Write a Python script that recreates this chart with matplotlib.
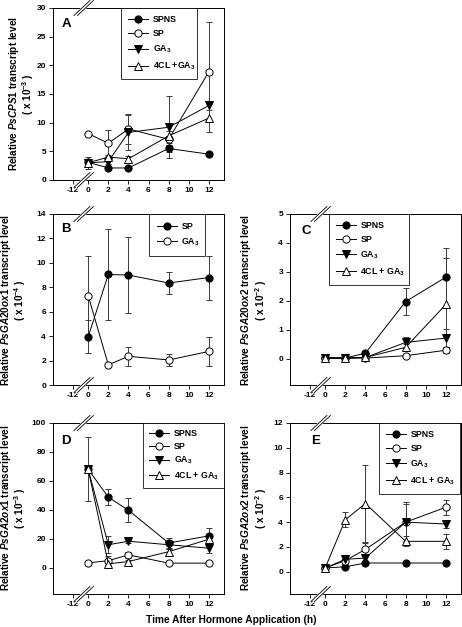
import matplotlib
matplotlib.use("Agg")
import matplotlib.pyplot as plt
import numpy as np

plt.rcParams['font.family'] = ['Liberation Sans', 'DejaVu Sans']
plt.rcParams['font.weight'] = 'bold'
plt.rcParams['mathtext.fontset'] = 'custom'
plt.rcParams['mathtext.rm'] = 'Liberation Sans:bold'
plt.rcParams['mathtext.bf'] = 'Liberation Sans:bold'
plt.rcParams['mathtext.it'] = 'Liberation Sans:italic:bold'
plt.rcParams['mathtext.default'] = 'rm'

# ---------------- data ----------------
times = [0, 2, 4, 8, 12]
xtick_pos = [-1.5, 0, 2, 4, 6, 8, 10, 12]
xtick_labels = ['-12', '0', '2', '4', '6', '8', '10', '12']

# Panel A  PsCPS1 (x10^-3)
A_spns = [3.1, 2.1, 2.1, 5.5, 4.5]
A_spns_err = [0.3, 0.3, 0.3, 0.6, 0.3]
A_sp = [8.1, 6.4, 8.9, 7.1, 18.9]
A_sp_err = [0.3, 2.3, 2.6, 0.6, 8.7]
A_ga3 = [3.0, 3.2, 8.3, 9.2, 13.0]
A_ga3_err = [1.0, 0.4, 3.0, 5.4, 0.8]
A_4cl = [3.0, 4.0, 3.7, 7.7, 10.8]
A_4cl_err = [0.5, 0.4, 0.4, 0.8, 2.4]

# Panel B  PsGA20ox1 (x10^-4)
B_sp = [3.95, 9.05, 9.0, 8.35, 8.8]
B_sp_err = [1.35, 3.75, 3.1, 0.9, 1.8]
B_ga3 = [7.3, 1.65, 2.35, 2.05, 2.75]
B_ga3_err = [3.3, 0.1, 0.8, 0.5, 1.2]

# Panel C  PsGA20ox2 (x10^-2)
C_spns = [0.03, 0.03, 0.2, 1.98, 2.82]
C_spns_err = [0.02, 0.02, 0.04, 0.46, 1.02]
C_sp = [0.03, 0.03, 0.03, 0.11, 0.3]
C_sp_err = [0.01, 0.01, 0.01, 0.03, 0.1]
C_ga3 = [0.03, 0.03, 0.05, 0.57, 0.72]
C_ga3_err = [0.01, 0.01, 0.02, 0.18, 0.3]
C_4cl = [0.03, 0.03, 0.05, 0.4, 1.88]
C_4cl_err = [0.01, 0.01, 0.02, 0.1, 1.6]

# Panel D  PsGA2ox1 (x10^-3)
D_spns = [68, 48.8, 39.8, 17.2, 22.1]
D_spns_err = [22, 5.4, 8.3, 3.5, 5.7]
D_sp = [3.5, 5.0, 9.0, 3.3, 3.3]
D_sp_err = [0.5, 3.0, 2.0, 0.5, 0.5]
D_ga3 = [68, 16.0, 18.4, 16.0, 13.6]
D_ga3_err = [0, 6.0, 1.0, 3.0, 3.0]
D_4cl = [68, 2.8, 4.4, 11.2, 19.8]
D_4cl_err = [0, 1.0, 1.0, 2.0, 3.0]

# Panel E  PsGA2ox2 (x10^-2)
E_spns = [0.3, 0.4, 0.7, 0.7, 0.7]
E_spns_err = [0.05, 0.05, 0.1, 0.05, 0.05]
E_sp = [0.3, 0.9, 1.8, 4.0, 5.2]
E_sp_err = [0.1, 0.3, 0.5, 1.5, 0.6]
E_ga3 = [0.3, 1.0, 1.1, 4.0, 3.85]
E_ga3_err = [0.1, 0.2, 0.2, 1.6, 0.3]
E_4cl = [0.3, 4.2, 5.5, 2.45, 2.45]
E_4cl_err = [0.1, 0.6, 3.1, 0.4, 0.6]

# ---------------- layout ----------------
W, H = 462, 627
fig = plt.figure(figsize=(W / 100, H / 100), dpi=100)

def px_axes(l, t, r, b):
    return fig.add_axes([l / W, 1 - b / H, (r - l) / W, (b - t) / H])

axA = px_axes(53, 8, 224, 180)
axB = px_axes(53, 214, 224, 385)
axC = px_axes(290, 214, 461, 385)
axD = px_axes(53, 423, 224, 594)
axE = px_axes(290, 423, 461, 594)

ECOL = '#3a3a3a'
styles = {
    'SPNS': dict(marker='o', mfc='black'),
    'SP': dict(marker='o', mfc='white'),
    'GA3': dict(marker='v', mfc='black'),
    '4CL': dict(marker='^', mfc='white'),
}

def series(ax, y, e, style, label):
    ax.errorbar(times, y, yerr=e, fmt='none', ecolor=ECOL, elinewidth=0.7,
                capsize=2.3, capthick=0.7, zorder=2)
    ax.plot(times, y, color='black', lw=0.7, ms=5.2, mec='black', mew=0.7,
            label=label, zorder=3, **style)

def setup(ax, ylim, yticks):
    ax.set_xlim(-3.5, 13.5)
    ax.set_ylim(*ylim)
    ax.set_xticks(xtick_pos)
    ax.set_xticklabels(xtick_labels)
    ax.set_yticks(yticks)
    ax.tick_params(direction='out', length=3, width=0.6, labelsize=6, pad=2)
    for lab in ax.get_xticklabels() + ax.get_yticklabels():
        lab.set_fontweight('bold')
    for s in ax.spines.values():
        s.set_linewidth(0.7)
    # broken-axis marks
    wpx = ax.get_position().width * W
    hpx = ax.get_position().height * H
    xc = (-0.45 + 3.5) / 17.0
    dx, dy = 8.0 / wpx, 7.5 / hpx
    sep = 3.5 / wpx
    for yc in (0.0, 1.0):
        ax.plot([xc - dx, xc + dx], [yc - dy, yc + dy], transform=ax.transAxes,
                color='white', lw=3.0, clip_on=False, zorder=5,
                solid_capstyle='butt')
        for s in (-sep / 2, sep / 2):
            ax.plot([xc - dx + s, xc + dx + s], [yc - dy, yc + dy],
                    transform=ax.transAxes, color='black', lw=0.6,
                    clip_on=False, zorder=6)

def legend(ax, x0, x1, ls=0.45, bp=0.7):
    leg = ax.legend(loc='upper left', bbox_to_anchor=(x0, 0.0, x1 - x0, 1.0),
                    mode='expand', borderaxespad=0, frameon=True,
                    fancybox=False, edgecolor='black', handlelength=2.3,
                    handletextpad=0.5, borderpad=bp, labelspacing=ls,
                    numpoints=1, prop=dict(size=6.3, weight='bold'))
    leg.get_frame().set_linewidth(0.7)
    leg.set_zorder(10)
    return leg

# Panel A
series(axA, A_spns, A_spns_err, styles['SPNS'], 'SPNS')
series(axA, A_sp, A_sp_err, styles['SP'], 'SP')
series(axA, A_ga3, A_ga3_err, styles['GA3'], 'GA$_3$')
series(axA, A_4cl, A_4cl_err, styles['4CL'], '4CL +GA$_3$')
setup(axA, (0, 30), [0, 5, 10, 15, 20, 25, 30])
legend(axA, 0.398, 0.842, 0.62, 0.8)

# Panel B
series(axB, B_sp, B_sp_err, styles['SPNS'], 'SP')
series(axB, B_ga3, B_ga3_err, styles['SP'], 'GA$_3$')
setup(axB, (0, 14), [0, 2, 4, 6, 8, 10, 12, 14])
legend(axB, 0.561, 0.889, 0.6, 0.9)

# Panel C
series(axC, C_spns, C_spns_err, styles['SPNS'], 'SPNS')
series(axC, C_sp, C_sp_err, styles['SP'], 'SP')
series(axC, C_ga3, C_ga3_err, styles['GA3'], 'GA$_3$')
series(axC, C_4cl, C_4cl_err, styles['4CL'], '4CL + GA$_3$')
setup(axC, (-0.9, 5), [0, 1, 2, 3, 4, 5])
legend(axC, 0.228, 0.696, 0.6, 0.8)

# Panel D
series(axD, D_spns, D_spns_err, styles['SPNS'], 'SPNS')
series(axD, D_sp, D_sp_err, styles['SP'], 'SP')
series(axD, D_ga3, D_ga3_err, styles['GA3'], 'GA$_3$')
series(axD, D_4cl, D_4cl_err, styles['4CL'], '4CL + GA$_3$')
setup(axD, (-18, 100), [0, 20, 40, 60, 80, 100])
legend(axD, 0.526, 1.0, 0.45, 0.7)

# Panel E
series(axE, E_spns, E_spns_err, styles['SPNS'], 'SPNS')
series(axE, E_sp, E_sp_err, styles['SP'], 'SP')
series(axE, E_ga3, E_ga3_err, styles['GA3'], 'GA$_3$')
series(axE, E_4cl, E_4cl_err, styles['4CL'], '4CL + GA$_3$')
setup(axE, (-1.8, 12), [0, 2, 4, 6, 8, 10, 12])
legend(axE, 0.52, 0.994, 0.6, 0.8)

# panel letters
for ax, letter, (px, py) in [(axA, 'A', (66, 24)), (axB, 'B', (66, 229)),
                             (axC, 'C', (306, 231)), (axD, 'D', (66, 441)),
                             (axE, 'E', (316, 441))]:
    fig.text(px / W, 1 - py / H, letter, fontsize=9.5, fontweight='bold',
             ha='center', va='center')

# y labels (two lines each)
ylabels = [
    ('Relative $\\mathit{PsCPS1}$ transcript level', '( x 10$^{-3}$ )', 14, 28, 94),
    ('Relative $\\mathit{PsGA20ox1}$ transcript level', '( x 10$^{-4}$ )', 6, 20, 300),
    ('Relative $\\mathit{PsGA20ox2}$ transcript level', '( x 10$^{-2}$ )', 246, 261, 300),
    ('Relative $\\mathit{PsGA2ox1}$ transcript level', '( x 10$^{-3}$ )', 6, 20, 508),
    ('Relative $\\mathit{PsGA2ox2}$ transcript level', '( x 10$^{-2}$ )', 246, 261, 508),
]
for l1, l2, x1, x2, yc in ylabels:
    fig.text(x1 / W, 1 - yc / H, l1, rotation=90, fontsize=7.2, fontweight='bold',
             ha='center', va='center')
    fig.text(x2 / W, 1 - yc / H, l2, rotation=90, fontsize=7.2, fontweight='bold',
             ha='center', va='center')

fig.text(231 / W, 1 - 620 / H, 'Time After Hormone Application (h)',
         fontsize=7.3, fontweight='bold', ha='center', va='center')

fig.savefig('out.png', dpi=100)
